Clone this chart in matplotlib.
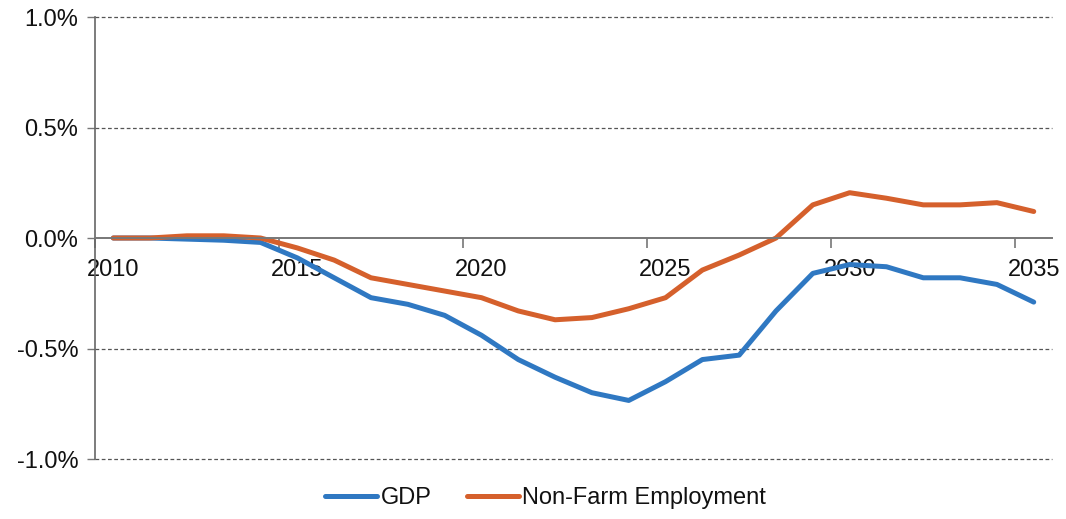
import numpy as np
import matplotlib
matplotlib.use("Agg")
import matplotlib.pyplot as plt

# Deviation from baseline (%), annual
years = list(range(2010, 2036))
gdp = [0.00, 0.00, -0.005, -0.01, -0.02, -0.09, -0.18, -0.27, -0.30, -0.35,
       -0.44, -0.55, -0.63, -0.70, -0.735, -0.65, -0.55, -0.53, -0.33, -0.16,
       -0.12, -0.13, -0.18, -0.18, -0.21, -0.29]
employment = [0.00, 0.00, 0.01, 0.01, 0.00, -0.045, -0.10, -0.18, -0.21, -0.24,
              -0.27, -0.33, -0.37, -0.36, -0.32, -0.27, -0.145, -0.077, 0.00, 0.15,
              0.205, 0.18, 0.15, 0.15, 0.16, 0.12]
y_ticks = [-1.0, -0.5, 0.0, 0.5, 1.0]
label_years = [2010, 2015, 2020, 2025, 2030, 2035]

plt.rcParams['font.family'] = ['Liberation Sans', 'DejaVu Sans']

fig = plt.figure(figsize=(10.66, 5.19), dpi=100)
ax = fig.add_axes([0.089, 0.1156, 0.898, 0.8516])

l1, = ax.plot(years, gdp, color='#2f78c2', lw=3.6, label='GDP', solid_capstyle='round')
l2, = ax.plot(years, employment, color='#d5602c', lw=3.6, label='Non-Farm Employment',
              solid_capstyle='round')

ax.set_xlim(2009.5, 2035.5)
ax.set_ylim(-1.0, 1.0)

# category-style axis: ticks on boundaries, labels on centres
ax.set_xticks([y - 0.5 for y in label_years])
ax.set_xticklabels([])
ax.set_xticks(label_years, minor=True)
ax.set_xticklabels([str(y) for y in label_years], minor=True)
ax.tick_params(axis='x', which='major', length=7, width=1.2, color='#777777', direction='out')
ax.tick_params(axis='x', which='minor', length=0, pad=15, labelsize=17, labelcolor='#111111')

ax.set_yticks(y_ticks)
ax.set_yticklabels([f"{v:.1f}%" for v in y_ticks])
ax.tick_params(axis='y', length=6, width=1.0, color='#777777', pad=6, labelsize=17,
               labelcolor='#111111')

ax.spines['bottom'].set_position(('data', 0))
ax.spines['bottom'].set_color('#777777')
ax.spines['bottom'].set_linewidth(1.4)
ax.spines['left'].set_color('#666666')
ax.spines['left'].set_linewidth(1.2)
ax.spines['top'].set_visible(False)
ax.spines['right'].set_visible(False)

for v in y_ticks:
    if v != 0:
        ax.axhline(v, color='#555555', lw=0.9, ls=(0, (3, 2)), zorder=0, clip_on=False)

ax.set_zorder(1)
leg = fig.legend(handles=[l1, l2], loc='center', bbox_to_anchor=(0.512, 0.040), ncol=2,
                 frameon=False, fontsize=17, handlelength=2.2, handletextpad=0.15,
                 columnspacing=1.5)
for t in leg.get_texts():
    t.set_color('#111111')

fig.savefig('out.png', dpi=100, facecolor='white')
